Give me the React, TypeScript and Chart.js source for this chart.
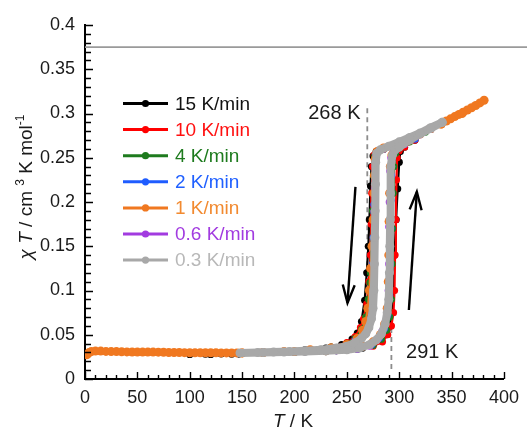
import React, { useEffect, useRef } from 'react';
import { Chart, registerables } from 'chart.js';

Chart.register(...registerables);

const FONT = 'Arial, "Liberation Sans", Helvetica, sans-serif';

// ---------- data ----------
const seriesLabels = ['15 K/min', '10 K/min', '4 K/min', '2 K/min', '1 K/min', '0.6 K/min', '0.3 K/min'];
const seriesColors = ['#000000', '#ff0000', '#1e7b1e', '#1f5cff', '#f07820', '#a23be0', '#a8a8a8'];
const legendTextColors = ['#111111', '#ff1010', '#1e7b1e', '#2060ff', '#f28a30', '#a23be0', '#b8b8b8'];

// [T (K), chiT (cm3 K mol-1)]
const rate15: number[][] = [
  [340, 0.289], [320, 0.278], [300, 0.267], [285, 0.26], [278, 0.257], [275, 0.252], [273.5, 0.24],
  [272.6, 0.218], [271.5, 0.18], [270.5, 0.15], [269, 0.12], [267, 0.089], [264, 0.065], [260, 0.052],
  [255, 0.045], [245, 0.039], [230, 0.035], [210, 0.033], [190, 0.031], [170, 0.03], [150, 0.029],
  [130, 0.0283], [115, 0.028], [100, 0.0278],
  [120, 0.0278], [140, 0.028], [147, 0.0282], [170, 0.029], [200, 0.03], [230, 0.031], [250, 0.033],
  [265, 0.035], [275, 0.038], [283, 0.043], [288, 0.05], [291, 0.06], [293, 0.075], [294.5, 0.1],
  [295.5, 0.14], [297, 0.18], [298.5, 0.215], [300, 0.245], [301, 0.257], [305, 0.262], [315, 0.27],
  [330, 0.282], [340, 0.289],
];
const rate10: number[][] = [
  [340, 0.289], [320, 0.278], [300, 0.267], [285, 0.26], [279, 0.257], [276, 0.253], [274.5, 0.24],
  [273.8, 0.21], [273.3, 0.175], [272.5, 0.14], [271, 0.11], [269, 0.085], [266, 0.068], [263, 0.058],
  [258, 0.048], [250, 0.041], [235, 0.036], [215, 0.033], [190, 0.031], [170, 0.0302], [150, 0.0295],
  [180, 0.03], [210, 0.031], [240, 0.032], [260, 0.034], [275, 0.037], [284, 0.042], [289, 0.05],
  [292.5, 0.06], [294.5, 0.075], [295.5, 0.1], [296, 0.14], [296.8, 0.18], [297.3, 0.225], [298, 0.25],
  [300, 0.258], [305, 0.262], [315, 0.27], [330, 0.282], [340, 0.289],
];
const rate4: number[][] = [
  [340, 0.289], [320, 0.278], [300, 0.267], [285, 0.26], [279, 0.257], [276.5, 0.252], [275.5, 0.23],
  [274.5, 0.19], [273.5, 0.15], [272.5, 0.12], [272, 0.109], [270.5, 0.09], [268, 0.07], [264, 0.056],
  [258, 0.046], [250, 0.04], [235, 0.036], [215, 0.033], [190, 0.031], [170, 0.03], [150, 0.0295],
  [180, 0.03], [210, 0.031], [240, 0.032], [260, 0.034], [275, 0.038], [283, 0.045], [288, 0.055],
  [291, 0.07], [292.5, 0.09], [293.2, 0.13], [293.7, 0.17], [294.2, 0.21], [294.8, 0.24], [296.5, 0.255],
  [300, 0.261], [310, 0.268], [325, 0.279], [340, 0.289],
];
const rate2: number[][] = [
  [340, 0.289], [320, 0.278], [300, 0.267], [285, 0.26], [279, 0.257], [277.3, 0.25], [276.8, 0.23],
  [276.3, 0.21], [275.8, 0.197], [275.2, 0.16], [274.5, 0.13], [273.5, 0.1], [272, 0.078], [269, 0.062],
  [265, 0.052], [258, 0.044], [250, 0.039], [235, 0.035], [215, 0.033], [190, 0.031], [170, 0.03],
  [150, 0.0295],
  [180, 0.03], [210, 0.031], [240, 0.032], [260, 0.034], [274, 0.039], [281, 0.046], [286, 0.057],
  [289, 0.072], [290.8, 0.095], [291.5, 0.13], [292, 0.17], [292.2, 0.202], [292.7, 0.23], [293.5, 0.25],
  [296, 0.258], [300, 0.262], [315, 0.271], [340, 0.289],
];
const rate1: number[][] = [
  [2, 0.0275], [4, 0.03], [6, 0.031], [10, 0.0315], [15, 0.0315], [20, 0.0312], [25, 0.031], [30, 0.031],
  [35, 0.0308], [40, 0.0306], [45, 0.0305], [50, 0.0305], [55, 0.0304], [60, 0.0305], [65, 0.0304],
  [70, 0.0303], [75, 0.0302], [80, 0.03], [85, 0.03], [90, 0.0299], [95, 0.0298], [100, 0.0297],
  [105, 0.0296], [110, 0.0297], [115, 0.0296], [120, 0.0296], [125, 0.0296], [130, 0.0295], [135, 0.0295],
  [140, 0.0295], [145, 0.0295], [150, 0.0295], [170, 0.03], [200, 0.031], [230, 0.032], [250, 0.034],
  [265, 0.037], [275, 0.042], [282, 0.05], [286, 0.062], [288.5, 0.08], [289.5, 0.11], [290, 0.14],
  [290.3, 0.178], [290.8, 0.21], [291.5, 0.24], [293, 0.253], [296, 0.26], [300, 0.263], [310, 0.27],
  [320, 0.277], [330, 0.283], [340, 0.288], [345, 0.2915], [349, 0.294], [353, 0.2965], [357, 0.299],
  [361, 0.3015], [365, 0.304], [369, 0.3065], [373, 0.309], [377, 0.312], [381, 0.315],
  [360, 0.3], [340, 0.288], [320, 0.277], [300, 0.267], [285, 0.261], [279, 0.257], [277, 0.248],
  [276.3, 0.23], [275.8, 0.21], [275, 0.18], [274, 0.15], [272.6, 0.125], [271.5, 0.1], [270, 0.08],
  [268, 0.065], [265, 0.055], [260, 0.046], [250, 0.039], [235, 0.035], [215, 0.033], [190, 0.031],
  [170, 0.03], [150, 0.0295],
];
const rate06: number[][] = [
  [340, 0.289], [320, 0.278], [300, 0.267], [285, 0.26], [280, 0.258], [277.5, 0.252], [277, 0.24],
  [276.5, 0.215], [275.8, 0.189], [275.2, 0.15], [274.5, 0.12], [273.5, 0.095], [272, 0.077],
  [269.5, 0.063], [265, 0.052], [258, 0.043], [250, 0.038], [235, 0.035], [215, 0.033], [190, 0.031],
  [170, 0.03], [150, 0.0295],
  [180, 0.03], [210, 0.031], [240, 0.032], [260, 0.0335], [272, 0.037], [279, 0.044], [283.5, 0.054],
  [286.5, 0.064], [288.5, 0.08], [289.5, 0.1], [290, 0.13], [290, 0.172], [290.5, 0.2], [291, 0.235],
  [292, 0.25], [294, 0.256], [298, 0.26], [305, 0.265], [320, 0.276], [340, 0.289],
];
const rate03: number[][] = [
  [341, 0.29], [330, 0.284], [320, 0.278], [310, 0.273], [300, 0.268], [290, 0.263], [282, 0.259],
  [278.5, 0.255], [277.5, 0.245], [277.3, 0.22], [277, 0.19], [276.7, 0.16], [276.3, 0.13], [275.8, 0.1],
  [275, 0.08], [273.5, 0.068], [271, 0.058], [268, 0.051], [264, 0.046], [258, 0.041], [250, 0.037],
  [240, 0.035], [225, 0.033], [210, 0.032], [195, 0.031], [180, 0.0305], [165, 0.03], [148, 0.0295],
  [170, 0.03], [190, 0.0305], [210, 0.031], [230, 0.032], [250, 0.033], [262, 0.035], [272, 0.039],
  [278, 0.044], [283, 0.051], [286.5, 0.062], [288.5, 0.075], [290, 0.09], [290.6, 0.12], [291, 0.15],
  [291.3, 0.18], [291.6, 0.21], [292, 0.24], [293.5, 0.253], [296, 0.259], [300, 0.262], [310, 0.27],
  [320, 0.277], [330, 0.283], [341, 0.29],
];
const allSeries = [rate15, rate10, rate4, rate2, rate1, rate06, rate03];

// axis
const xMin = 0, xMax = 400, xStep = 50, xMinor = 10;
const yMin = 0, yMax = 0.4, yStep = 0.05, yMinor = 0.01;

// reference lines / annotations (data coordinates)
const curieLine = 0.375;
const coolT = 269.5, coolLineFrom = 0.07, coolLineTo = 0.306;
const heatT = 292.5, heatLineFrom = 0.01, heatLineTo = 0.2;
const coolLabel = { text: '268 K', x: 255, y: 0.2995 };
const heatLabel = { text: '291 K', x: 297.5, y: 0.0305 };
const arrowDown = { from: [258.2, 0.217], to: [250.6, 0.086] };
const arrowUp = { from: [309.2, 0.078], to: [316.8, 0.2115] };

type Part = { t: string; italic?: boolean; sup?: boolean };

function drawParts(ctx: CanvasRenderingContext2D, parts: Part[], cx: number, cy: number, size: number) {
  const fontFor = (p: Part) => `${p.italic ? 'italic ' : ''}${p.sup ? Math.round(size * 0.62) : size}px ${FONT}`;
  let total = 0;
  const widths = parts.map((p) => {
    ctx.font = fontFor(p);
    const w = ctx.measureText(p.t).width;
    total += w;
    return w;
  });
  let x = cx - total / 2;
  ctx.textAlign = 'left';
  ctx.textBaseline = 'alphabetic';
  parts.forEach((p, i) => {
    ctx.font = fontFor(p);
    ctx.fillText(p.t, x, p.sup ? cy - size * 0.4 : cy);
    x += widths[i];
  });
}

function arrow(ctx: CanvasRenderingContext2D, x1: number, y1: number, x2: number, y2: number) {
  ctx.beginPath();
  ctx.moveTo(x1, y1);
  ctx.lineTo(x2, y2);
  ctx.stroke();
  const ang = Math.atan2(y2 - y1, x2 - x1);
  const len = 19, spread = 0.32;
  ctx.beginPath();
  ctx.moveTo(x2 - len * Math.cos(ang - spread), y2 - len * Math.sin(ang - spread));
  ctx.lineTo(x2, y2);
  ctx.lineTo(x2 - len * Math.cos(ang + spread), y2 - len * Math.sin(ang + spread));
  ctx.stroke();
}

const decorPlugin = {
  id: 'decor',
  beforeDatasetsDraw(chart: any) {
    const { ctx, chartArea, scales } = chart;
    const xs = scales.x, ys = scales.y;
    ctx.save();
    // Curie line
    ctx.strokeStyle = '#9a9a9a';
    ctx.lineWidth = 1.6;
    const py = ys.getPixelForValue(curieLine);
    ctx.beginPath();
    ctx.moveTo(chartArea.left, py);
    ctx.lineTo(chart.width, py);
    ctx.stroke();
    // dashed lines
    ctx.setLineDash([5, 4]);
    ctx.lineWidth = 1.8;
    ctx.strokeStyle = '#8c8c8c';
    ctx.beginPath();
    ctx.moveTo(xs.getPixelForValue(coolT), ys.getPixelForValue(coolLineTo));
    ctx.lineTo(xs.getPixelForValue(coolT), ys.getPixelForValue(coolLineFrom));
    ctx.moveTo(xs.getPixelForValue(heatT), ys.getPixelForValue(heatLineTo));
    ctx.lineTo(xs.getPixelForValue(heatT), ys.getPixelForValue(heatLineFrom));
    ctx.stroke();
    ctx.restore();
  },
  afterDraw(chart: any) {
    const { ctx, chartArea, scales } = chart;
    const xs = scales.x, ys = scales.y;
    ctx.save();
    // inward tick marks
    ctx.strokeStyle = '#000';
    ctx.lineWidth = 1.4;
    ctx.beginPath();
    const nx = Math.round((xMax - xMin) / xMinor);
    const perMajX = Math.round(xStep / xMinor);
    for (let i = 0; i <= nx; i++) {
      const px = Math.round(xs.getPixelForValue(xMin + i * xMinor)) + 0.5;
      const len = i % perMajX === 0 ? 7 : 4;
      ctx.moveTo(px, chartArea.bottom);
      ctx.lineTo(px, chartArea.bottom - len);
    }
    const ny = Math.round((yMax - yMin) / yMinor);
    const perMajY = Math.round(yStep / yMinor);
    for (let i = 0; i <= ny; i++) {
      const py = Math.round(ys.getPixelForValue(yMin + i * yMinor)) + 0.5;
      const len = i % perMajY === 0 ? 8 : 6;
      ctx.moveTo(chartArea.left, py);
      ctx.lineTo(chartArea.left + len, py);
    }
    ctx.stroke();

    // arrows
    ctx.lineWidth = 2.4;
    ctx.strokeStyle = '#000';
    arrow(ctx, xs.getPixelForValue(arrowDown.from[0]), ys.getPixelForValue(arrowDown.from[1]),
      xs.getPixelForValue(arrowDown.to[0]), ys.getPixelForValue(arrowDown.to[1]));
    arrow(ctx, xs.getPixelForValue(arrowUp.from[0]), ys.getPixelForValue(arrowUp.from[1]),
      xs.getPixelForValue(arrowUp.to[0]), ys.getPixelForValue(arrowUp.to[1]));

    // annotation labels
    ctx.fillStyle = '#1a1a1a';
    ctx.font = `20px ${FONT}`;
    ctx.textAlign = 'right';
    ctx.textBaseline = 'middle';
    ctx.fillText(coolLabel.text, xs.getPixelForValue(coolLabel.x + 8), ys.getPixelForValue(coolLabel.y));
    ctx.textAlign = 'left';
    ctx.fillText(heatLabel.text, xs.getPixelForValue(heatLabel.x + 9), ys.getPixelForValue(heatLabel.y));

    // legend
    const lx0 = 123, lx1 = 168, ltx = 175, ly0 = 103.5, lstep = 26.1;
    seriesLabels.forEach((lab, i) => {
      const y = ly0 + i * lstep;
      ctx.strokeStyle = seriesColors[i];
      ctx.lineWidth = 3;
      ctx.beginPath();
      ctx.moveTo(lx0, y);
      ctx.lineTo(lx1, y);
      ctx.stroke();
      ctx.fillStyle = seriesColors[i];
      ctx.beginPath();
      ctx.arc((lx0 + lx1) / 2, y, 3.6, 0, Math.PI * 2);
      ctx.fill();
      ctx.fillStyle = legendTextColors[i];
      ctx.font = `19px ${FONT}`;
      ctx.textAlign = 'left';
      ctx.textBaseline = 'middle';
      ctx.fillText(lab, ltx, y + 1);
    });

    // axis titles
    ctx.fillStyle = '#1a1a1a';
    drawParts(ctx, [{ t: 'T', italic: true }, { t: ' / K' }], 293, 427, 19);
    ctx.save();
    ctx.translate(32, 187);
    ctx.rotate(-Math.PI / 2);
    drawParts(ctx, [
      { t: 'χ', italic: true }, { t: ' ' }, { t: 'T', italic: true }, { t: ' / cm ' }, { t: '3', sup: true },
      { t: ' K mol' }, { t: '-1', sup: true },
    ], 0, 0, 19);
    ctx.restore();
    ctx.restore();
  },
};

export default function App() {
  const ref = useRef<HTMLCanvasElement | null>(null);
  useEffect(() => {
    if (!ref.current) return;
    const orderMap = [6, 5, 4, 3, 1, 2, 0];
    const datasets = allSeries.map((s, i) => {
      const isGray = i === 6;
      const isOrange = i === 4;
      return {
        label: seriesLabels[i],
        data: s.map((p) => ({ x: p[0], y: p[1] })),
        showLine: true,
        borderColor: seriesColors[i],
        backgroundColor: seriesColors[i],
        borderWidth: isGray ? 8 : 2.2,
        pointRadius: isGray ? 4.5 : isOrange ? 4.5 : 3.6,
        pointBorderWidth: 0,
        pointHoverRadius: 0,
        borderJoinStyle: 'round' as const,
        borderCapStyle: 'round' as const,
        tension: 0,
        order: orderMap[i],
      };
    });
    const chart = new Chart(ref.current, {
      type: 'scatter',
      data: { datasets },
      options: {
        animation: false,
        responsive: false,
        events: [],
        layout: { padding: { top: 25, right: 19, left: 0, bottom: 0 } },
        plugins: { legend: { display: false }, tooltip: { enabled: false } },
        scales: {
          x: {
            type: 'linear',
            min: xMin,
            max: xMax,
            afterFit: (s: any) => { s.height = 50; },
            grid: { display: false, drawTicks: false },
            border: { display: true, color: '#000', width: 2 },
            ticks: { stepSize: xStep, padding: 8, color: '#1a1a1a', font: { family: FONT, size: 18 }, maxRotation: 0 },
          },
          y: {
            type: 'linear',
            min: yMin,
            max: yMax,
            afterFit: (s: any) => { s.width = 85; },
            grid: { display: false, drawTicks: false },
            border: { display: true, color: '#000', width: 2 },
            ticks: {
              stepSize: yStep,
              padding: 10,
              color: '#1a1a1a',
              font: { family: FONT, size: 18 },
              callback: (v: any) => String(parseFloat(Number(v).toFixed(2))),
            },
          },
        },
      },
      plugins: [decorPlugin],
    } as any);
    return () => chart.destroy();
  }, []);
  return (
    <div style={{ position: 'absolute', left: 0, top: 0, width: 527, height: 429, background: '#fff' }}>
      <canvas ref={ref} width={527} height={429} style={{ width: 527, height: 429, display: 'block' }} />
    </div>
  );
}
